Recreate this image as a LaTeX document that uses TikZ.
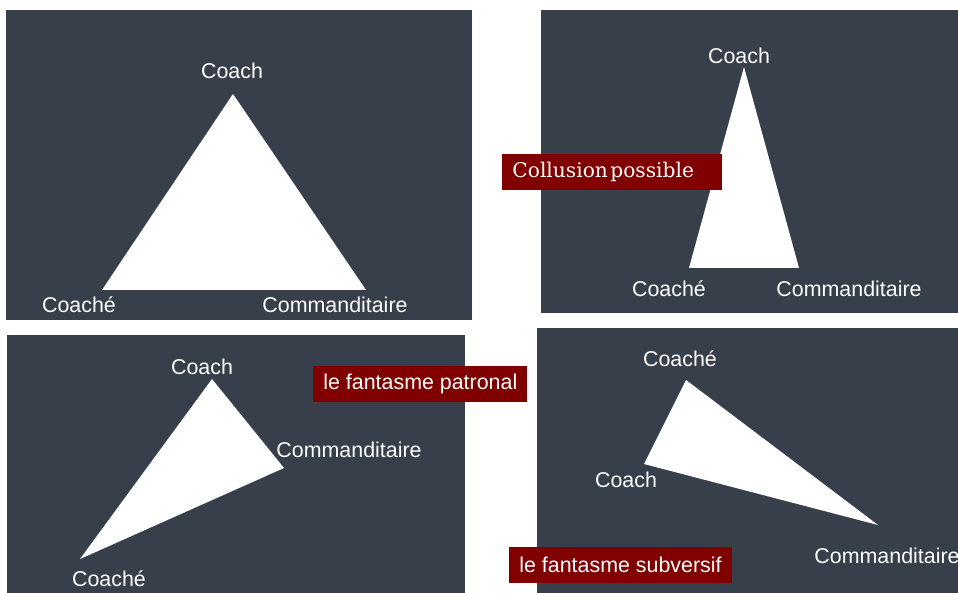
\documentclass[tikz,border=0pt]{standalone}
\usepackage{fontspec}
\setmainfont{Liberation Sans}
\newfontfamily\slabfont{DejaVu Serif}
\definecolor{panelgrey}{HTML}{373F4A}
\definecolor{tagred}{HTML}{800000}
\tikzset{
  panel/.style={fill=panelgrey},
  wedge/.style={fill=white},
  role/.style={text=white, anchor=base, inner sep=0pt, font=\fontsize{10.7}{12}\selectfont},
  tag/.style={fill=tagred, text=white, anchor=west, minimum height=18pt, inner xsep=5pt, inner ysep=0pt, font=\fontsize{10.7}{12}\selectfont}
}

\begin{document}
\begin{tikzpicture}[x=0.5pt,y=-0.5pt]
\useasboundingbox (0,0) rectangle (958,593);
% panels
\fill[panel] (6,10) rectangle (472,320);
\fill[panel] (541,10) rectangle (958,313);
\fill[panel] (7,335) rectangle (465,593);
\fill[panel] (537,328) rectangle (958,593);
% triangle vertices
\coordinate (aTop) at (233,94);
\coordinate (aLeft) at (102,290);
\coordinate (aRight) at (366,290);
\coordinate (bTop) at (744,67);
\coordinate (bLeft) at (689,268);
\coordinate (bRight) at (799,268);
\coordinate (cTop) at (212,379);
\coordinate (cRight) at (284,468);
\coordinate (cLeft) at (80,559);
\coordinate (dTop) at (686,380);
\coordinate (dLeft) at (644,464);
\coordinate (dRight) at (878,525);
\fill[wedge] (aTop) -- (aLeft) -- (aRight) -- cycle;
\fill[wedge] (bTop) -- (bLeft) -- (bRight) -- cycle;
\fill[wedge] (cTop) -- (cRight) -- (cLeft) -- cycle;
\fill[wedge] (dTop) -- (dLeft) -- (dRight) -- cycle;
% labels
\node[role] (aCoach) at (232,79) {Coach};
\node[role] (aCoache) at (79,313) {Coaché};
\node[role] (aComm) at (335,313) {Commanditaire};
\node[role] (bCoach) at (739,64) {Coach};
\node[role] (bCoache) at (669,297) {Coaché};
\node[role] (bComm) at (849,297) {Commanditaire};
\node[role] (cCoach) at (202,374) {Coach};
\node[role] (cComm) at (349,457) {Commanditaire};
\node[role] (cCoache) at (109,586) {Coaché};
\node[role] (dCoache) at (680,366) {Coaché};
\node[role] (dCoach) at (626,487) {Coach};
\node[role] (dComm) at (887,563) {Commanditaire};
% tags
\node[tag, text width=100pt, align=left, font=\slabfont\fontsize{10.1}{12}\selectfont] (collusion) at (502,172) {Collusion\hspace{0.12em}possible};
\node[tag] (patronal) at (313,384) {le fantasme patronal};
\node[tag] (subversif) at (509,565) {le fantasme subversif};
\end{tikzpicture}
\end{document}
